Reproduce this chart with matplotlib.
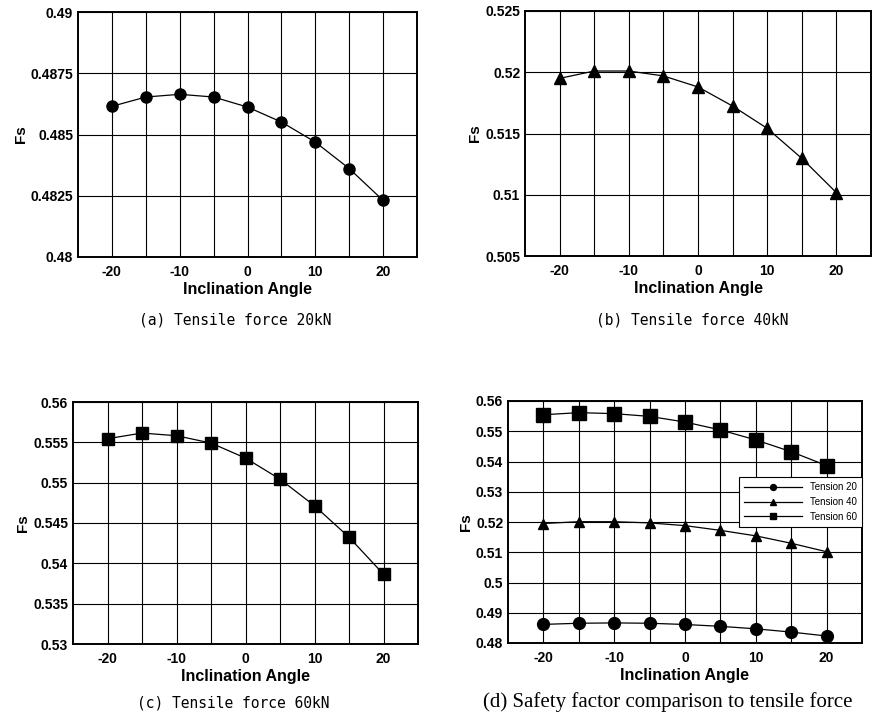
import matplotlib.pyplot as plt

angles = [-20, -15, -10, -5, 0, 5, 10, 15, 20]
fs_20 = [0.48615, 0.48653, 0.48664, 0.48653, 0.48612, 0.48551, 0.48469, 0.48361, 0.48231]
fs_40 = [0.5195, 0.5201, 0.5201, 0.5197, 0.5188, 0.51724, 0.51542, 0.51297, 0.51017]
fs_60 = [0.55545, 0.55615, 0.55582, 0.55491, 0.55305, 0.55044, 0.54713, 0.54324, 0.53865]

x_ticks = [-20, -10, 0, 10, 20]
y_ticks_a = [0.48, 0.4825, 0.485, 0.4875, 0.49]
y_labels_a = ["0.48", "0.4825", "0.485", "0.4875", "0.49"]
y_ticks_b = [0.505, 0.51, 0.515, 0.52, 0.525]
y_labels_b = ["0.505", "0.51", "0.515", "0.52", "0.525"]
y_ticks_c = [0.53, 0.535, 0.54, 0.545, 0.55, 0.555, 0.56]
y_labels_c = ["0.53", "0.535", "0.54", "0.545", "0.55", "0.555", "0.56"]
y_ticks_d = [0.48, 0.49, 0.5, 0.51, 0.52, 0.53, 0.54, 0.55, 0.56]
y_labels_d = ["0.48", "0.49", "0.5", "0.51", "0.52", "0.53", "0.54", "0.55", "0.56"]

captions = ["(a) Tensile force 20kN", "(b) Tensile force 40kN",
            "(c) Tensile force 60kN", "(d) Safety factor comparison to tensile force"]

plt.rcParams['font.family'] = ['Liberation Sans', 'DejaVu Sans']
plt.rcParams['axes.unicode_minus'] = False

fig = plt.figure(figsize=(8.76, 7.16), dpi=100)
W, H = 876, 716


def make_axes(l, t, r, b):
    return fig.add_axes([l / W, 1 - b / H, (r - l) / W, (b - t) / H])


def style(ax, yticks, ylabels):
    ax.set_xlim(-25, 25)
    ax.set_ylim(yticks[0], yticks[-1])
    ax.set_xticks(x_ticks)
    ax.set_xticks(angles, minor=True)
    ax.set_yticks(yticks)
    ax.set_yticklabels(ylabels)
    ax.grid(True, which='both', color='black', linewidth=0.8)
    ax.tick_params(which='both', length=0, labelsize=10)
    ax.tick_params(axis='x', pad=6)
    for lab in ax.get_xticklabels() + ax.get_yticklabels():
        lab.set_fontweight('bold')
    for sp in ax.spines.values():
        sp.set_linewidth(1.4)
    ax.set_xlabel("Inclination Angle", fontsize=11.5, fontweight='bold', labelpad=2)
    ax.set_ylabel("Fs", fontsize=11, fontweight='bold', labelpad=2)


ax_a = make_axes(78, 12, 417, 257)
ax_a.plot(angles, fs_20, color='black', linewidth=0.9, marker='o', markersize=8)
style(ax_a, y_ticks_a, y_labels_a)

ax_b = make_axes(525, 11, 871, 256)
ax_b.plot(angles, fs_40, color='black', linewidth=0.9, marker='^', markersize=8)
style(ax_b, y_ticks_b, y_labels_b)

ax_c = make_axes(73, 402, 418, 644)
ax_c.plot(angles, fs_60, color='black', linewidth=0.9, marker='s', markersize=9)
style(ax_c, y_ticks_c, y_labels_c)

ax_d = make_axes(508, 401, 862, 643)
ax_d.plot(angles, fs_20, color='black', linewidth=0.9, marker='o', markersize=8.5, label="Tension 20")
ax_d.plot(angles, fs_40, color='black', linewidth=0.9, marker='^', markersize=7.5, label="Tension 40")
ax_d.plot(angles, fs_60, color='black', linewidth=0.9, marker='s', markersize=9.5, label="Tension 60")
style(ax_d, y_ticks_d, y_labels_d)
leg = ax_d.legend(loc='upper right', bbox_to_anchor=(1.0, 0.685), fontsize=7, markerscale=0.5,
                  handlelength=6, frameon=True, fancybox=False, framealpha=1,
                  edgecolor='black', borderpad=0.5, labelspacing=0.5, borderaxespad=0)
leg.get_frame().set_linewidth(0.8)

cap_font = ['Liberation Serif', 'DejaVu Serif']
mono = ['DejaVu Sans Mono']
fig.text(235 / W, 1 - 320 / H, captions[0], ha='center', va='center', fontsize=10.5, family=mono)
fig.text(692 / W, 1 - 320 / H, captions[1], ha='center', va='center', fontsize=10.5, family=mono)
fig.text(233 / W, 1 - 703 / H, captions[2], ha='center', va='center', fontsize=10.5, family=mono)
fig.text(668 / W, 1 - 702 / H, captions[3], ha='center', va='center', fontsize=15, family=cap_font)

fig.savefig("out.png", dpi=100)
